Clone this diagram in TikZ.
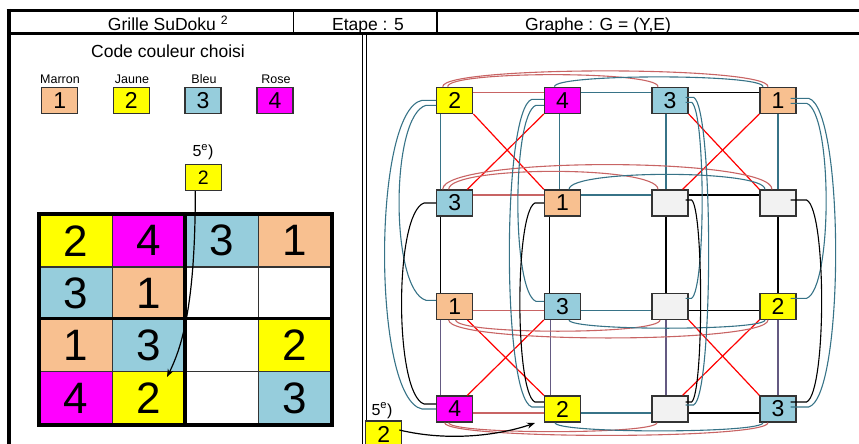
\documentclass[tikz,border=0pt]{standalone}
\usepackage{fontspec}
\setmainfont{Liberation Sans}
\usetikzlibrary{arrows.meta}
\definecolor{marron}{RGB}{248,192,144}
\definecolor{jaune}{RGB}{255,255,0}
\definecolor{bleu}{RGB}{150,205,220}
\definecolor{rose}{RGB}{255,0,255}
\definecolor{vide}{RGB}{242,242,242}
\definecolor{arcrouge}{RGB}{200,100,100}
\definecolor{arcbleu}{RGB}{55,115,135}
\definecolor{arcviolet}{RGB}{100,90,130}
\begin{document}
\begin{tikzpicture}[x=1pt, y=-1pt,
    gnode/.style={
        draw=black!80, line width=1.3pt, minimum width=36pt, minimum height=26pt,
        inner sep=0pt, font=\fontsize{23}{23}\selectfont
    },
    cell/.style={
        draw=black!80, line width=1.5pt, minimum width=73pt, minimum height=52.4pt,
        inner sep=0pt, font=\fontsize{44}{44}\selectfont
    },
    titre/.style={anchor=base, font=\fontsize{17.5}{20}\selectfont},
    legende/.style={anchor=base, font=\fontsize{12.5}{14}\selectfont},
    etape/.style={anchor=base, font=\fontsize{16}{18}\selectfont},
    erouge/.style={draw=arcrouge, line width=1.1pt},
    ebleu/.style={draw=arcbleu, line width=1.1pt},
    enoir/.style={draw=black, line width=1.1pt},
    eviolet/.style={draw=arcviolet, line width=1.1pt},
    ecroix/.style={draw=red, line width=1.2pt},
    arrow/.style={->, >={Stealth[length=8pt,width=6pt]}, line width=1.2pt}
]
\clip (0,0) rectangle (859,444);

% ==================== CADRE ====================
\draw[line width=3pt] (6.7,10.7) -- (870,10.7);
\draw[line width=4pt] (8.7,9) -- (8.7,460);
\draw[line width=3pt] (8.7,33.3) -- (870,33.3);
\draw[line width=1.3pt] (293.3,10.7) -- (293.3,33.3);
\draw[line width=1.3pt] (437,10.7) -- (437,33.3);
\draw[line width=1pt] (362.7,33.3) -- (362.7,460);
\draw[line width=1pt] (366,33.3) -- (366,460);

\node[titre] (tgrille) at (168,30.5) {Grille SuDoku \textsuperscript{2}};
\node[titre] (tetape) at (368,30.5) {Etape : 5};
\node[titre] (tgraphe) at (598,30.5) {Graphe : G = (Y,E)};

% ==================== CODE COULEUR ====================
\node[titre] (tcode) at (168,57) {Code couleur choisi};
\node[legende] (lmarron) at (60,83.3) {Marron};
\node[legende] (ljaune) at (132,83.3) {Jaune};
\node[legende] (lbleu) at (204,83.3) {Bleu};
\node[legende] (lrose) at (276,83.3) {Rose};
\node[gnode, fill=marron] (kmarron) at (59.7,100.3) {1};
\node[gnode, fill=jaune] (kjaune) at (131.3,100.3) {2};
\node[gnode, fill=bleu] (kbleu) at (203,100.3) {3};
\node[gnode, fill=rose] (krose) at (275,100.3) {4};

% ==================== GRILLE ====================
\node[etape] (n5a) at (203,156.5) {5\textsuperscript{e})};
\node[gnode, fill=jaune, font=\fontsize{19.5}{20}\selectfont] (sbox) at (203.3,177.5) {2};

\node[cell, fill=jaune] (c11) at (76,240.7) {2};
\node[cell, fill=rose] (c12) at (149,240.7) {4};
\node[cell, fill=bleu] (c13) at (222,240.7) {3};
\node[cell, fill=marron] (c14) at (295,240.7) {1};
\node[cell, fill=bleu] (c21) at (76,293.1) {3};
\node[cell, fill=marron] (c22) at (149,293.1) {1};
\node[cell, fill=white] (c23) at (222,293.1) {};
\node[cell, fill=white] (c24) at (295,293.1) {};
\node[cell, fill=marron] (c31) at (76,345.5) {1};
\node[cell, fill=bleu] (c32) at (149,345.5) {3};
\node[cell, fill=white] (c33) at (222,345.5) {};
\node[cell, fill=jaune] (c34) at (295,345.5) {2};
\node[cell, fill=rose] (c41) at (76,397.9) {4};
\node[cell, fill=jaune] (c42) at (149,397.9) {2};
\node[cell, fill=white] (c43) at (222,397.9) {};
\node[cell, fill=bleu] (c44) at (295,397.9) {3};

\draw[line width=4pt] (c11.north west) rectangle (c44.south east);
\draw[line width=3.5pt] (c13.north west) -- (c43.south west);
\draw[line width=3.5pt] (c31.north west) -- (c34.north east);

\coordinate (cible) at (167,377);
\draw[arrow] ([xshift=-8pt]sbox.south) .. controls +(0,110) and +(16,-32) .. (cible);

% ==================== GRAPHE ====================
\node[gnode, fill=jaune] (g11) at (454.7,100.3) {2};
\node[gnode, fill=rose] (g12) at (562.5,100.3) {4};
\node[gnode, fill=bleu] (g13) at (670,100.3) {3};
\node[gnode, fill=marron] (g14) at (778,100.3) {1};
\node[gnode, fill=bleu] (g21) at (454.7,203) {3};
\node[gnode, fill=marron] (g22) at (562.5,203) {1};
\node[gnode, fill=vide] (g23) at (670,203) {};
\node[gnode, fill=vide] (g24) at (778,203) {};
\node[gnode, fill=marron] (g31) at (454.7,306.3) {1};
\node[gnode, fill=bleu] (g32) at (562.5,306.3) {3};
\node[gnode, fill=vide] (g33) at (670,306.3) {};
\node[gnode, fill=jaune] (g34) at (778,306.3) {2};
\node[gnode, fill=rose] (g41) at (454.7,409) {4};
\node[gnode, fill=jaune] (g42) at (562.5,409) {2};
\node[gnode, fill=vide] (g43) at (670,409) {};
\node[gnode, fill=bleu] (g44) at (778,409) {3};

% lignes
\draw[erouge] ([yshift=8pt]g11.east) -- ([yshift=8pt]g12.west);
\draw[ebleu] ([yshift=8pt]g12.east) -- ([yshift=8pt]g13.west);
\draw[enoir] ([yshift=8pt]g13.east) -- ([yshift=8pt]g14.west);
\draw[erouge] ([yshift=8pt]g21.east) -- ([yshift=8pt]g22.west);
\draw[ebleu] ([yshift=8pt]g22.east) -- ([yshift=8pt]g23.west);
\draw[enoir] ([yshift=8pt]g23.east) -- ([yshift=8pt]g24.west);
\draw[erouge] ([yshift=-4pt]g31.east) -- ([yshift=-4pt]g32.west);
\draw[ebleu] ([yshift=-4pt]g32.east) -- ([yshift=-4pt]g33.west);
\draw[enoir] ([yshift=-4pt]g33.east) -- ([yshift=-4pt]g34.west);
\draw[erouge] ([yshift=-4pt]g41.east) -- ([yshift=-4pt]g42.west);
\draw[ebleu] ([yshift=-4pt]g42.east) -- ([yshift=-4pt]g43.west);
\draw[enoir] ([yshift=-4pt]g43.east) -- ([yshift=-4pt]g44.west);

% colonnes
\draw[ebleu] ([xshift=-14pt]g11.south) -- ([xshift=-14pt]g21.north);
\draw[enoir] ([xshift=-14pt]g21.south) -- ([xshift=-14pt]g31.north);
\draw[eviolet] ([xshift=-14pt]g31.south) -- ([xshift=-14pt]g41.north);
\draw[ebleu] ([xshift=-3pt]g12.south) -- ([xshift=-3pt]g22.north);
\draw[enoir] ([xshift=-13pt]g22.south) -- ([xshift=-13pt]g32.north);
\draw[eviolet] ([xshift=-12pt]g32.south) -- ([xshift=-12pt]g42.north);
\draw[ebleu] ([xshift=-4pt]g13.south) -- ([xshift=-4pt]g23.north);
\draw[enoir] ([xshift=-4pt]g23.south) -- ([xshift=-4pt]g33.north);
\draw[eviolet] ([xshift=-4pt]g33.south) -- ([xshift=-4pt]g43.north);
\draw[ebleu] (g14.south) -- (g24.north);
\draw[enoir] (g24.south) -- (g34.north);
\draw[eviolet] (g34.south) -- (g44.north);

% blocs (croix)
\draw[ecroix] (g11.south east) -- (g22.north west);
\draw[ecroix] (g12.south west) -- ([xshift=-6pt]g21.north east);
\draw[ecroix] (g13.south east) -- (g24.north west);
\draw[ecroix] (g14.south west) -- ([xshift=-6pt]g23.north east);
\draw[ecroix] ([xshift=-6pt]g31.south east) -- (g42.north west);
\draw[ecroix] (g32.south west) -- ([xshift=-6pt]g41.north east);
\draw[ecroix] (g33.south east) -- (g44.north west);
\draw[ecroix] (g34.south west) -- ([xshift=-6pt]g43.north east);

% arcs des lignes
\draw[erouge] ([xshift=-7pt]g11.north) .. controls +(0,-16) and +(0,-16) .. ([xshift=-12pt]g13.north);
\draw[erouge] ([xshift=-12pt]g11.north) .. controls +(0,-21) and +(0,-21) .. ([xshift=-10pt]g14.north);
\draw[ebleu] ([xshift=-8pt]g12.north) .. controls +(0,-13) and +(0,-13) .. ([xshift=-15pt]g14.north);
\draw[erouge] ([xshift=-6pt]g21.north) .. controls +(0,-24) and +(0,-24) .. ([xshift=-12pt]g23.north);
\draw[erouge] ([xshift=-12pt]g21.north) .. controls +(0,-33) and +(0,-33) .. ([xshift=-6pt]g24.north);
\draw[ebleu] ([xshift=6.5pt]g22.north) .. controls +(0,-20) and +(0,-20) .. ([xshift=-13pt]g24.north);
\draw[erouge] ([xshift=1pt]g31.south) .. controls +(0,15) and +(0,15) .. ([xshift=-10pt]g33.south);
\draw[erouge] ([xshift=-6pt]g31.south) .. controls +(0,24) and +(0,24) .. ([xshift=-10pt]g34.south);
\draw[ebleu] ([xshift=6.5pt]g32.south) .. controls +(0,11) and +(0,11) .. ([xshift=-13pt]g34.south);
\draw[erouge] ([xshift=-6pt]g41.south) .. controls +(0,12) and +(0,12) .. ([xshift=-13pt]g43.south);
\draw[erouge] ([xshift=-10pt]g41.south) .. controls +(0,17) and +(0,17) .. ([xshift=-10pt]g44.south);
\draw[ebleu] ([xshift=-7.5pt]g42.south) .. controls +(0,11) and +(0,11) .. ([xshift=-15pt]g44.south);

% arcs des colonnes
\draw[ebleu] (g11.west) -- ++(-14,0) .. controls +(-50,10) and +(-50,-10) .. ([xshift=-14pt]g41.west) -- (g41.west);
\draw[ebleu] ([yshift=-5pt]g11.west) -- ++(-10,0) .. controls +(-36,10) and +(-36,-10) .. ([xshift=-10pt,yshift=6pt]g31.west) -- ([yshift=6pt]g31.west);
\draw[enoir] (g21.west) -- ++(-12,0) .. controls +(-30,10) and +(-30,-10) .. ([xshift=-12pt,yshift=5pt]g41.west) -- ([yshift=5pt]g41.west);
\draw[ebleu] ([yshift=1pt]g12.west) -- ++(-12,0) .. controls +(-30,10) and +(-30,-10) .. ([xshift=-12pt,yshift=2pt]g42.west) -- ([yshift=2pt]g42.west);
\draw[ebleu] ([yshift=-5pt]g12.west) -- ++(-8,0) .. controls +(-24,10) and +(-24,-10) .. ([xshift=-8pt,yshift=5pt]g32.west) -- ([yshift=5pt]g32.west);
\draw[enoir] (g22.west) -- ++(-9,0) .. controls +(-20,10) and +(-20,-10) .. ([xshift=-9pt,yshift=7pt]g42.west) -- ([yshift=7pt]g42.west);
\draw[ebleu] ([xshift=-3pt,yshift=3pt]g13.east) -- ++(8,0) .. controls +(20,10) and +(20,-10) .. ([xshift=5pt,yshift=4pt]g43.east) -- ([xshift=-3pt,yshift=4pt]g43.east);
\draw[ebleu] ([xshift=-3pt,yshift=-2pt]g13.east) -- ++(6,0) .. controls +(14,10) and +(14,-10) .. ([xshift=3pt,yshift=8pt]g33.east) -- ([xshift=-3pt,yshift=8pt]g33.east);
\draw[enoir] ([xshift=-3pt,yshift=3pt]g23.east) -- ++(6,0) .. controls +(12,10) and +(12,-10) .. ([xshift=3pt,yshift=7pt]g43.east) -- ([xshift=-3pt,yshift=7pt]g43.east);
\draw[ebleu] ([xshift=-6pt,yshift=2pt]g14.east) -- ++(18,0) .. controls +(36,10) and +(36,-10) .. ([xshift=12pt,yshift=2pt]g44.east) -- ([xshift=-6pt,yshift=2pt]g44.east);
\draw[ebleu] ([xshift=-6pt,yshift=-3pt]g14.east) -- ++(16,0) .. controls +(26,10) and +(26,-10) .. ([xshift=10pt,yshift=8pt]g34.east) -- ([xshift=-6pt,yshift=8pt]g34.east);
\draw[enoir] ([xshift=-6pt,yshift=3pt]g24.east) -- ++(16,0) .. controls +(20,10) and +(20,-10) .. ([xshift=10pt,yshift=7pt]g44.east) -- ([xshift=-6pt,yshift=7pt]g44.east);

% ==================== ETAPE 5 ====================
\node[etape] (n5b) at (382,415) {5\textsuperscript{e})};
\node[gnode, fill=jaune] (bbox) at (383.7,434) {2};
\coordinate (cible2) at (535,423);
\draw[arrow] ([xshift=-3pt,yshift=4pt]bbox.east) .. controls +(50,12) and +(-35,12) .. (cible2);

\end{tikzpicture}
\end{document}
